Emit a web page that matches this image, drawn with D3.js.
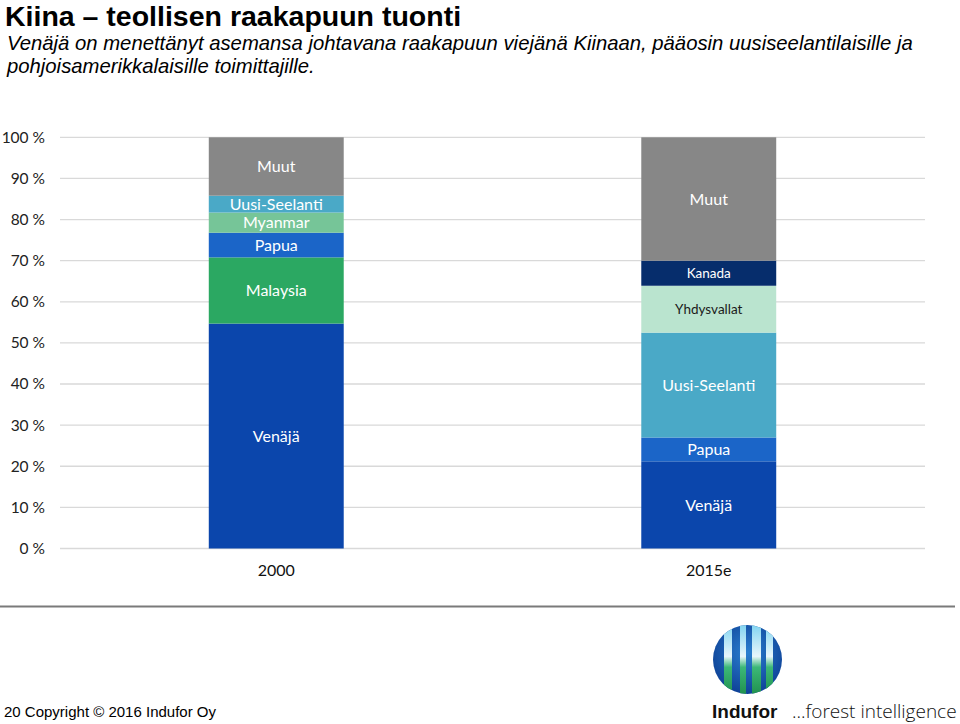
<!DOCTYPE html>
<html>
<head>
<meta charset="utf-8">
<script src="https://cdn.jsdelivr.net/npm/d3@7"></script>
<style>
  html, body { margin: 0; padding: 0; background: #fff; }
  svg { display: block; }
</style>
</head>
<body>
<svg id="chart" width="960" height="724"></svg>
<script>
// ---------- DATA ----------
const titleText = "Kiina – teollisen raakapuun tuonti";
const subtitleLines = [
  "Venäjä on menettänyt asemansa johtavana raakapuun viejänä Kiinaan, pääosin uusiseelantilaisille ja",
  "pohjoisamerikkalaisille toimittajille."
];
const categories = ["2000", "2015e"];
const segments2000 = ["Venäjä", "Malaysia", "Papua", "Myanmar", "Uusi-Seelanti", "Muut"];
const values2000 = [54.7, 16.1, 6.0, 4.9, 4.1, 14.2];
const segments2015 = ["Venäjä", "Papua", "Uusi-Seelanti", "Yhdysvallat", "Kanada", "Muut"];
const values2015 = [21.2, 5.8, 25.5, 11.4, 6.1, 30.0];
const yTicks = [0, 10, 20, 30, 40, 50, 60, 70, 80, 90, 100];
const footerText = "20  Copyright © 2016 Indufor Oy";

// ---------- STYLE ----------
const colors = {
  "Venäjä": "#0b46ac",
  "Malaysia": "#2ba862",
  "Papua": "#1b65c8",
  "Myanmar": "#76c598",
  "Uusi-Seelanti": "#4aa9c7",
  "Muut": "#878787",
  "Kanada": "#062d6c",
  "Yhdysvallat": "#bae4cf"
};
const smallLabels = { "Kanada": true, "Yhdysvallat": true };
const darkLabels = { "Yhdysvallat": true };
const chartFont = "Lato, 'Open Sans', sans-serif";

const svg = d3.select("#chart");

// Title
svg.append("text").attr("x", 5).attr("y", 26)
  .attr("font-family", "'Liberation Sans', Arial, sans-serif")
  .attr("font-weight", "bold").attr("font-size", 28.5).attr("fill", "#000")
  .text(titleText);
svg.selectAll("text.sub").data(subtitleLines).join("text")
  .attr("class", "sub")
  .attr("x", 7).attr("y", (d, i) => 50 + i * 23)
  .attr("font-family", "'Liberation Sans', Arial, sans-serif")
  .attr("font-style", "italic").attr("font-size", 20.3).attr("fill", "#000")
  .text(d => d);

// Scales
const y = d3.scaleLinear().domain([0, 100]).range([548.5, 137.3]);
const x = d3.scaleBand().domain(categories).range([60, 925])
  .paddingInner(0.688).paddingOuter(0.344);

// Gridlines
svg.append("g").selectAll("line").data(yTicks).join("line")
  .attr("x1", 60).attr("x2", 925)
  .attr("y1", d => y(d)).attr("y2", d => y(d))
  .attr("stroke", "#d9d9d9").attr("stroke-width", 1.3);

// Y axis labels
const yAxis = d3.axisLeft(y).tickValues(yTicks).tickSize(0).tickPadding(0)
  .tickFormat(d => d + " %");
const gy = svg.append("g").attr("transform", "translate(45,0)").call(yAxis);
gy.select(".domain").remove();
gy.selectAll("text").attr("font-family", chartFont).attr("font-size", 15.5).attr("fill", "#222");

// Build stacked data
const bars = [
  { cat: categories[0], names: segments2000, vals: values2000 },
  { cat: categories[1], names: segments2015, vals: values2015 }
];
const rects = [];
bars.forEach(b => {
  let acc = 0;
  b.names.forEach((n, i) => {
    rects.push({ cat: b.cat, name: n, y0: acc, y1: acc + b.vals[i] });
    acc += b.vals[i];
  });
});

const gBars = svg.append("g");
gBars.selectAll("rect").data(rects).join("rect")
  .attr("x", d => x(d.cat)).attr("width", x.bandwidth())
  .attr("y", d => y(d.y1)).attr("height", d => y(d.y0) - y(d.y1))
  .attr("fill", d => colors[d.name]);

gBars.selectAll("text").data(rects).join("text")
  .attr("x", d => x(d.cat) + x.bandwidth() / 2)
  .attr("y", d => (y(d.y0) + y(d.y1)) / 2)
  .attr("dy", "0.35em")
  .attr("text-anchor", "middle")
  .attr("font-family", chartFont)
  .attr("font-size", d => smallLabels[d.name] ? 13.5 : 16)
  .attr("fill", d => darkLabels[d.name] ? "#1a1a1a" : "#fff")
  .text(d => d.name);

// X axis labels
const xAxis = d3.axisBottom(x).tickSize(0).tickPadding(0);
const gx = svg.append("g").attr("transform", "translate(0,565)").call(xAxis);
gx.select(".domain").remove();
gx.selectAll("text").attr("font-family", chartFont).attr("font-size", 16).attr("fill", "#111");

// Divider line
svg.append("line").attr("x1", 0).attr("x2", 955).attr("y1", 606.5).attr("y2", 606.5)
  .attr("stroke", "#7a7a7a").attr("stroke-width", 2);

// Footer
svg.append("text").attr("x", 4).attr("y", 717)
  .attr("font-family", "'Liberation Sans Narrow', 'Liberation Sans', Arial, sans-serif")
  .attr("font-size", 15).attr("fill", "#000")
  .text(footerText);

// Logo
const defs = svg.append("defs");
defs.append("clipPath").attr("id", "logoClip")
  .append("ellipse").attr("cx", 747.5).attr("cy", 659.5).attr("rx", 34.5).attr("ry", 34.5);
const lg = defs.append("linearGradient").attr("id", "lightStripe")
  .attr("x1", 0).attr("y1", 0).attr("x2", 0).attr("y2", 1);
lg.append("stop").attr("offset", "0%").attr("stop-color", "#7fd3f0");
lg.append("stop").attr("offset", "45%").attr("stop-color", "#e8f6fb");
lg.append("stop").attr("offset", "60%").attr("stop-color", "#3cb878");
lg.append("stop").attr("offset", "100%").attr("stop-color", "#1f8f4c");
const bg = defs.append("radialGradient").attr("id", "logoBlue")
  .attr("cx", "50%").attr("cy", "40%").attr("r", "60%");
bg.append("stop").attr("offset", "0%").attr("stop-color", "#2a7fd0");
bg.append("stop").attr("offset", "100%").attr("stop-color", "#0d3f94");
const logo = svg.append("g").attr("clip-path", "url(#logoClip)");
logo.append("rect").attr("x", 712).attr("y", 624).attr("width", 72).attr("height", 72).attr("fill", "url(#logoBlue)");
const stripes = [[724, 8], [740, 6], [752, 9], [766, 7]];
logo.selectAll("rect.s").data(stripes).join("rect").attr("class", "s")
  .attr("x", d => d[0]).attr("width", d => d[1])
  .attr("y", 624).attr("height", 72).attr("fill", "url(#lightStripe)");
svg.append("text").attr("x", 712).attr("y", 718)
  .attr("font-family", "'Liberation Sans', Arial, sans-serif")
  .attr("font-weight", "bold").attr("font-size", 19).attr("fill", "#111")
  .text("Indufor");
svg.append("text").attr("x", 792).attr("y", 718)
  .attr("font-family", "'Open Sans', sans-serif")
  .attr("font-weight", 300).attr("font-size", 19).attr("fill", "#111")
  .text("...forest intelligence");
</script>
</body>
</html>
